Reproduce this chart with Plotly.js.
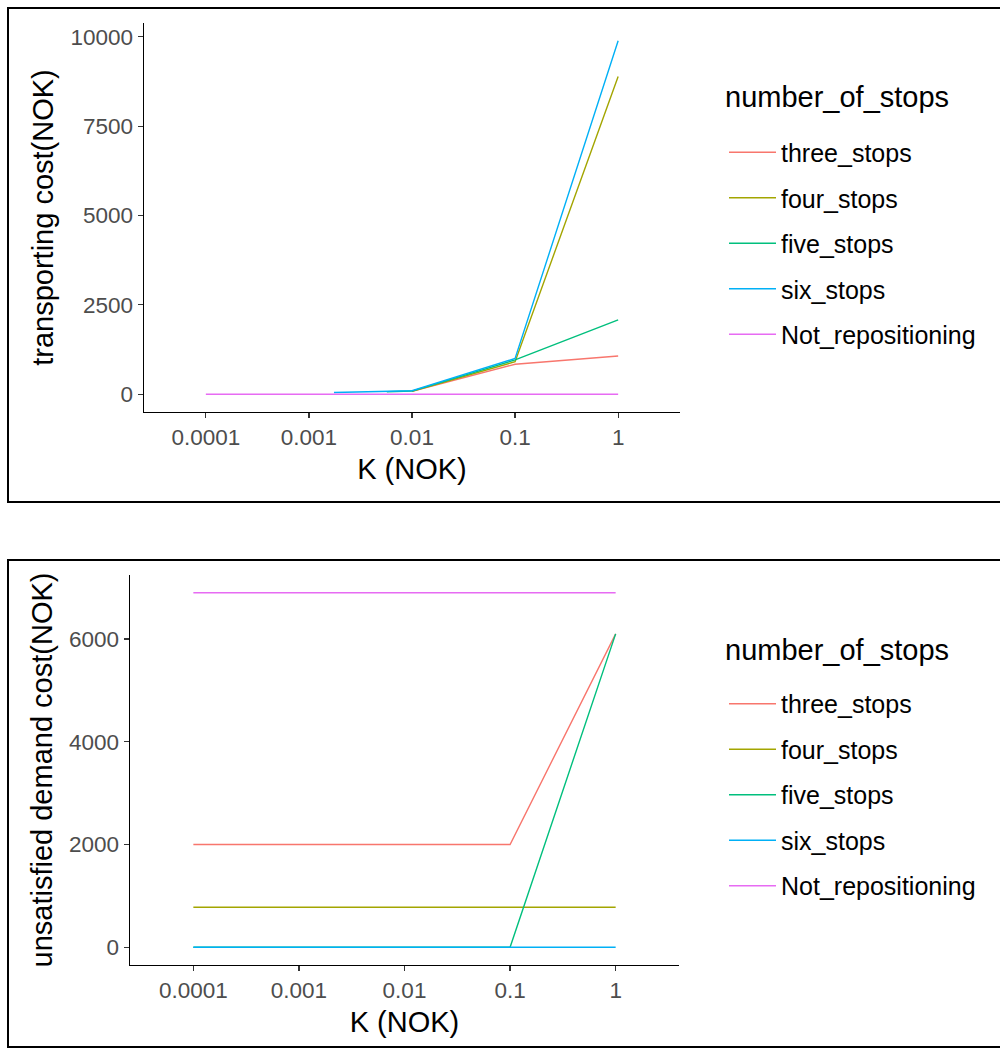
<!DOCTYPE html>
<html>
<head>
<meta charset="utf-8">
<script src="https://cdn.plot.ly/plotly-3.0.1.min.js"></script>
<style>
  html, body { margin: 0; padding: 0; background: #ffffff; }
  #chart { width: 1000px; height: 1052px; }
</style>
</head>
<body>
<div id="chart"></div>
<script>
// ---------- data ----------
const seriesNames = ["three_stops", "four_stops", "five_stops", "six_stops", "Not_repositioning"];
const seriesColors = ["#F8766D", "#A3A500", "#00BF7D", "#00B0F6", "#E76BF3"];
const legendTitle = "number_of_stops";

const kTicks = [0.0001, 0.001, 0.01, 0.1, 1];
const kTickText = ["0.0001", "0.001", "0.01", "0.1", "1"];

// transporting cost (NOK)
const tcThreeK = [0.01, 0.1, 1];
const tcThree  = [80, 840, 1070];
const tcFourK  = [0.01, 0.1, 1];
const tcFour   = [85, 910, 8890];
const tcFiveK  = [0.0057, 0.01, 0.1, 1];
const tcFive   = [70, 90, 960, 2080];
const tcSixK   = [0.00175, 0.01, 0.1, 1];
const tcSix    = [50, 100, 1000, 9890];
const tcNotK   = [0.0001, 0.001, 0.01, 0.1, 1];
const tcNot    = [0, 0, 0, 0, 0];
const tcTicks  = [0, 2500, 5000, 7500, 10000];
const tcTickText = ["0", "2500", "5000", "7500", "10000"];

// unsatisfied demand cost (NOK)
const udK      = [0.0001, 0.001, 0.01, 0.1, 1];
const udThree  = [2000, 2000, 2000, 2000, 6100];
const udFour   = [780, 780, 780, 780, 780];
const udFive   = [0, 0, 0, 0, 6100];
const udSix    = [0, 0, 0, 0, 0];
const udNot    = [6900, 6900, 6900, 6900, 6900];
const udTicks  = [0, 2000, 4000, 6000];
const udTickText = ["0", "2000", "4000", "6000"];

// ---------- traces ----------
const topX = [tcThreeK, tcFourK, tcFiveK, tcSixK, tcNotK];
const topY = [tcThree, tcFour, tcFive, tcSix, tcNot];
const botY = [udThree, udFour, udFive, udSix, udNot];

const traces = [];
seriesNames.forEach((name, i) => {
  traces.push({
    type: "scatter", mode: "lines", name: name,
    x: topX[i], y: topY[i], xaxis: "x", yaxis: "y",
    line: { color: seriesColors[i], width: 1.4 },
    legend: "legend", legendgroup: "t" + i, hoverinfo: "x+y+name"
  });
});
seriesNames.forEach((name, i) => {
  traces.push({
    type: "scatter", mode: "lines", name: name,
    x: udK, y: botY[i], xaxis: "x2", yaxis: "y2",
    line: { color: seriesColors[i], width: 1.4 },
    legend: "legend2", legendgroup: "b" + i, hoverinfo: "x+y+name"
  });
});

// ---------- layout ----------
const FONT = "Liberation Sans, Arial, sans-serif";
const tickFont = { family: FONT, size: 22.5, color: "#4D4D4D" };
const titleFont = { family: FONT, size: 29, color: "#000000" };

function xAxis(domain, anchor) {
  return {
    type: "log", range: [-4.6, 0.6], domain: domain, anchor: anchor,
    tickmode: "array", tickvals: kTicks, ticktext: kTickText,
    showline: true, linecolor: "#000000", linewidth: 1.5,
    ticks: "outside", ticklen: 5, tickwidth: 1.2, tickcolor: "#333333",
    showgrid: false, zeroline: false, tickfont: tickFont,
    title: { text: "K (NOK)", font: titleFont, standoff: 9 }
  };
}
function yAxis(domain, anchor, range, ticks, tickText, title) {
  return {
    range: range, domain: domain, anchor: anchor,
    tickmode: "array", tickvals: ticks, ticktext: tickText,
    showline: true, linecolor: "#000000", linewidth: 1.5,
    ticks: "outside", ticklen: 5, tickwidth: 1.2, tickcolor: "#333333",
    showgrid: false, zeroline: false, tickfont: tickFont,
    title: { text: title, font: titleFont, standoff: 8 }
  };
}

const legendCommon = {
  xanchor: "left", yanchor: "middle",
  font: { family: FONT, size: 25, color: "#000000" },
  bgcolor: "rgba(0,0,0,0)", borderwidth: 0,
  tracegroupgap: 10, itemwidth: 47
};

const layout = {
  width: 1000, height: 1052,
  margin: { l: 0, r: 0, t: 0, b: 0 },
  paper_bgcolor: "#ffffff", plot_bgcolor: "#ffffff",
  showlegend: true,
  xaxis: xAxis([0.144, 0.680], "y"),
  yaxis: yAxis([0.6084, 0.9781], "x", [-495, 10385], tcTicks, tcTickText, "transporting cost(NOK)"),
  xaxis2: xAxis([0.130, 0.679], "y2"),
  yaxis2: yAxis([0.0827, 0.4534], "x2", [-345, 7245], udTicks, udTickText, "unsatisfied demand cost(NOK)"),
  legend: Object.assign({}, legendCommon, { x: 0.724, y: 0.7685 }),
  legend2: Object.assign({}, legendCommon, { x: 0.724, y: 0.2443 }),
  annotations: [
    { xref: "paper", yref: "paper", x: 0.723, y: 1 - 97 / 1052, xanchor: "left", yanchor: "middle",
      text: legendTitle, showarrow: false, font: titleFont },
    { xref: "paper", yref: "paper", x: 0.723, y: 1 - 650 / 1052, xanchor: "left", yanchor: "middle",
      text: legendTitle, showarrow: false, font: titleFont }
  ],
  shapes: [
    { type: "rect", xref: "paper", yref: "paper", x0: 0.008, x1: 1.01, y0: 0.5228, y1: 0.9924,
      line: { color: "#000000", width: 2 }, fillcolor: "rgba(0,0,0,0)", layer: "below" },
    { type: "rect", xref: "paper", yref: "paper", x0: 0.008, x1: 1.01, y0: 0.0048, y1: 0.4677,
      line: { color: "#000000", width: 2 }, fillcolor: "rgba(0,0,0,0)", layer: "below" }
  ]
};

Plotly.newPlot("chart", traces, layout, { displayModeBar: false, staticPlot: true });
</script>
</body>
</html>
